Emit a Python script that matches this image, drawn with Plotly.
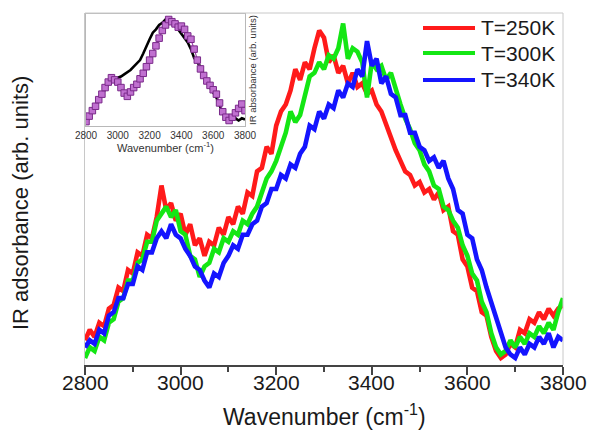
import plotly.graph_objects as go

# ---------------- data ----------------
wavenumber = list(range(2800, 3801, 10))

a250 = [0.07, 0.10, 0.08, 0.12, 0.11, 0.16, 0.17, 0.22, 0.21, 0.27,
        0.26, 0.32, 0.31, 0.37, 0.36, 0.42, 0.51, 0.44, 0.46, 0.41,
        0.43, 0.37, 0.40, 0.34, 0.36, 0.31, 0.35, 0.34, 0.39, 0.37,
        0.42, 0.40, 0.45, 0.43, 0.49, 0.48, 0.55, 0.56, 0.62, 0.60,
        0.68, 0.72, 0.74, 0.78, 0.84, 0.81, 0.86, 0.84, 0.90, 0.95,
        0.93, 0.86, 0.88, 0.83, 0.85, 0.80, 0.83, 0.79, 0.80, 0.77,
        0.78, 0.74, 0.72, 0.68, 0.65, 0.61, 0.58, 0.55, 0.54, 0.51,
        0.52, 0.49, 0.50, 0.47, 0.49, 0.44, 0.45, 0.38, 0.37, 0.30,
        0.28, 0.22, 0.21, 0.15, 0.14, 0.08, 0.04, 0.02, 0.03, 0.06,
        0.05, 0.10, 0.09, 0.13, 0.12, 0.15, 0.13, 0.16, 0.14, 0.16,
        0.17]

a300 = [0.02, 0.05, 0.04, 0.08, 0.07, 0.12, 0.13, 0.18, 0.19, 0.24,
        0.24, 0.29, 0.30, 0.35, 0.35, 0.41, 0.43, 0.45, 0.42, 0.44,
        0.38, 0.37, 0.31, 0.30, 0.25, 0.28, 0.29, 0.33, 0.32, 0.36,
        0.35, 0.38, 0.37, 0.41, 0.40, 0.43, 0.45, 0.49, 0.53, 0.55,
        0.58, 0.62, 0.66, 0.72, 0.69, 0.71, 0.76, 0.82, 0.83, 0.86,
        0.84, 0.88, 0.87, 0.90, 0.97, 0.87, 0.90, 0.89, 0.86, 0.76,
        0.86, 0.84, 0.85, 0.81, 0.83, 0.78, 0.74, 0.70, 0.67, 0.63,
        0.61, 0.57, 0.55, 0.51, 0.50, 0.45, 0.44, 0.41, 0.39, 0.34,
        0.31, 0.26, 0.24, 0.18, 0.15, 0.09, 0.05, 0.03, 0.04, 0.07,
        0.05, 0.08, 0.06, 0.09, 0.08, 0.11, 0.09, 0.12, 0.10, 0.15,
        0.19]

a340 = [0.05, 0.07, 0.06, 0.10, 0.09, 0.14, 0.15, 0.19, 0.19, 0.23,
        0.23, 0.28, 0.27, 0.32, 0.32, 0.36, 0.38, 0.36, 0.40, 0.37,
        0.36, 0.33, 0.31, 0.28, 0.27, 0.24, 0.22, 0.26, 0.25, 0.29,
        0.31, 0.34, 0.33, 0.37, 0.37, 0.40, 0.41, 0.45, 0.46, 0.50,
        0.50, 0.54, 0.53, 0.57, 0.56, 0.60, 0.62, 0.68, 0.67, 0.72,
        0.70, 0.74, 0.73, 0.78, 0.76, 0.80, 0.79, 0.84, 0.82, 0.92,
        0.85, 0.87, 0.80, 0.82, 0.77, 0.76, 0.71, 0.71, 0.66, 0.66,
        0.62, 0.61, 0.58, 0.59, 0.56, 0.58, 0.53, 0.50, 0.44, 0.43,
        0.37, 0.36, 0.30, 0.27, 0.22, 0.18, 0.13, 0.09, 0.05, 0.03,
        0.02, 0.05, 0.03, 0.06, 0.05, 0.08, 0.06, 0.09, 0.05, 0.08,
        0.07]

series_names = ["T=250K", "T=300K", "T=340K"]
series_colors = ["#ff1a1a", "#14e614", "#1414ff"]

inset_wn = list(range(2800, 3801, 20))
inset_black = [0.02, 0.08, 0.13, 0.19, 0.24, 0.29, 0.34, 0.38, 0.41, 0.42,
               0.44, 0.45, 0.47, 0.49, 0.51, 0.54, 0.57, 0.60, 0.66, 0.73,
               0.79, 0.85, 0.88, 0.92, 0.94, 0.97, 0.95, 0.93, 0.91, 0.88,
               0.84, 0.80, 0.76, 0.70, 0.62, 0.58, 0.54, 0.47, 0.40, 0.35,
               0.30, 0.26, 0.19, 0.12, 0.06, 0.04, 0.06, 0.07, 0.05, 0.07,
               0.06]
inset_purple = [0.04, 0.09, 0.14, 0.18, 0.24, 0.29, 0.35, 0.40, 0.44, 0.42,
                0.40, 0.35, 0.30, 0.27, 0.31, 0.35, 0.38, 0.43, 0.48, 0.54,
                0.60, 0.66, 0.73, 0.80, 0.87, 0.92, 0.97, 0.95, 0.93, 0.90,
                0.91, 0.88, 0.82, 0.79, 0.70, 0.60, 0.52, 0.46, 0.41, 0.37,
                0.33, 0.29, 0.21, 0.13, 0.08, 0.05, 0.08, 0.12, 0.16, 0.20,
                0.14]

x_ticks = [2800, 3000, 3200, 3400, 3600, 3800]
x_tick_labels = ["2800", "3000", "3200", "3400", "3600", "3800"]

# ---------------- geometry (px) ----------------
W, H = 589, 441
L, R, T, B = 85, 26, 13, 76
PW, PH = W - L - R, H - T - B
FONT = "Liberation Sans, Arial, sans-serif"


def px_x(p):
    return (p - L) / PW


def px_y(p):
    return (H - B - p) / PH


fig = go.Figure()

for name, ys, col in zip(series_names, [a250, a300, a340], series_colors):
    fig.add_trace(go.Scatter(x=wavenumber, y=ys, mode="lines", name=name,
                             line=dict(color=col, width=4.6),
                             showlegend=False, xaxis="x", yaxis="y"))

# inset
fig.add_trace(go.Scatter(x=inset_wn, y=inset_black, mode="lines",
                         line=dict(color="black", width=2.6),
                         showlegend=False, xaxis="x2", yaxis="y2"))
fig.add_trace(go.Scatter(x=inset_wn, y=inset_purple, mode="lines+markers",
                         line=dict(color="#a040b0", width=1.2),
                         marker=dict(symbol="square", size=6.5, color="#c070d0",
                                     line=dict(color="#7a2a8a", width=1)),
                         showlegend=False, xaxis="x2", yaxis="y2"))

x0, x1 = px_x(86), px_x(245)
y0, y1 = px_y(126), px_y(14)

fig.update_layout(
    width=W, height=H,
    margin=dict(l=L, r=R, t=T, b=B),
    paper_bgcolor="white", plot_bgcolor="white",
    font=dict(family=FONT, color="#1a1a1a"),
    xaxis=dict(range=[2800, 3800], tickvals=x_ticks, ticks="outside",
               showticklabels=False,
               ticklen=8, tickwidth=1.5, tickcolor="#444",
               showline=True, linecolor="#444", linewidth=1.8,
               showgrid=False, zeroline=False,
               minor=dict(dtick=100, tick0=2800, ticks="outside", ticklen=5,
                          tickwidth=1.5, tickcolor="#444"),
               domain=[0, 1]),
    yaxis=dict(range=[0, 1], showticklabels=False, ticks="",
               showline=True, linecolor="#c8c8c8", linewidth=1,
               showgrid=False, zeroline=False, domain=[0, 1]),
    xaxis2=dict(range=[2800, 3800], tickvals=x_ticks, ticks="", anchor="y2",
                domain=[x0, x1], showline=True, linecolor="#b8b8b8",
                mirror=True, showgrid=False, zeroline=False,
                tickfont=dict(size=10, family=FONT, color="#333")),
    yaxis2=dict(range=[0, 1.02], showticklabels=False, ticks="", anchor="x2",
                domain=[y0, y1], showline=True, linecolor="#b8b8b8",
                mirror=True, showgrid=False, zeroline=False),
)

# main x tick labels placed at their data positions
for tv, tl in zip(x_ticks, x_tick_labels):
    fig.add_annotation(x=tv, y=px_y(382), xref="x", yref="paper", text=tl,
                       showarrow=False, xanchor="center", yanchor="middle",
                       font=dict(size=21, family=FONT, color="#1a1a1a"))

# main frame (light grey top/right)
fig.add_shape(type="line", xref="paper", yref="paper", x0=0, x1=1, y0=1, y1=1,
              line=dict(color="#c8c8c8", width=1))
fig.add_shape(type="line", xref="paper", yref="paper", x0=1, x1=1, y0=0, y1=1,
              line=dict(color="#c8c8c8", width=1))

# inset background
fig.add_shape(type="rect", xref="paper", yref="paper", x0=x0, x1=x1, y0=y0, y1=y1,
              fillcolor="white", line=dict(width=0), layer="below")

# legend (manual)
leg_y = [28, 53, 80]
for name, col, yp in zip(series_names, series_colors, leg_y):
    fig.add_shape(type="line", xref="paper", yref="paper",
                  x0=px_x(423), x1=px_x(475), y0=px_y(yp), y1=px_y(yp),
                  line=dict(color=col, width=4))
    fig.add_annotation(x=px_x(479), y=px_y(yp), xref="paper", yref="paper",
                       text=name, showarrow=False, xanchor="left",
                       yanchor="middle",
                       font=dict(size=21, family=FONT, color="#1a1a1a"))

# axis titles
fig.add_annotation(x=0.5, y=px_y(415), xref="paper", yref="paper",
                   text="Wavenumber (cm<sup>-1</sup>)", showarrow=False,
                   xanchor="center", yanchor="middle",
                   font=dict(size=23, family=FONT, color="#1a1a1a"))
fig.add_annotation(x=px_x(20), y=px_y(203), xref="paper", yref="paper",
                   text="IR adsorbance (arb. units)", showarrow=False,
                   textangle=-90, xanchor="center", yanchor="middle",
                   font=dict(size=22, family=FONT, color="#1a1a1a"))

# inset titles
fig.add_annotation(x=px_x(165), y=px_y(147), xref="paper", yref="paper",
                   text="Wavenumber (cm<sup>-1</sup>)", showarrow=False,
                   xanchor="center", yanchor="middle",
                   font=dict(size=11, family=FONT, color="#333"))
fig.add_annotation(x=px_x(252), y=px_y(70), xref="paper", yref="paper",
                   text="IR absorbance (arb. units)", showarrow=False,
                   textangle=-90, xanchor="center", yanchor="middle",
                   font=dict(size=9.5, family=FONT, color="#333"))

fig.write_html("out.html")
